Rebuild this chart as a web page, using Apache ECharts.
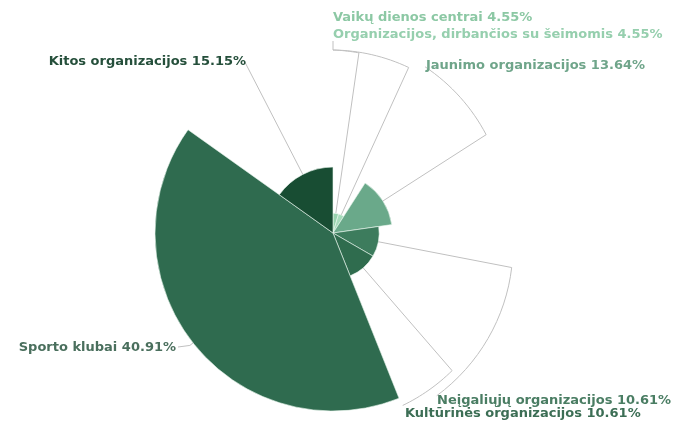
<!DOCTYPE html>
<html>
<head>
<meta charset="utf-8">
<script src="https://cdn.jsdelivr.net/npm/echarts@6/dist/echarts.min.js"></script>
<style>
  html, body { margin: 0; padding: 0; background: #fff; }
  #chart { width: 683px; height: 423px; }
</style>
</head>
<body>
<div id="chart"></div>
<script>
const categories = [
  'Vaikų dienos centrai',
  'Organizacijos, dirbančios su šeimomis',
  'Jaunimo organizacijos',
  'Neįgaliųjų organizacijos',
  'Kultūrinės organizacijos',
  'Sporto klubai',
  'Kitos organizacijos'
];
const shares = [4.55, 4.55, 13.64, 10.61, 10.61, 40.91, 15.15];
const sliceColors = ['#97d2ae', '#a6dbbb', '#6aa98a', '#3d7c5d', '#2f6c4e', '#2f6b4f', '#184d33'];
const textColors = ['#8cc8a4', '#96cfae', '#6fa58a', '#4a7d63', '#3c6e55', '#4a6f5d', '#254f3b'];

const cx = 333;
const cy = 233;
const outerR = 178;

// label placement + how each leader line bends towards its text
const labelSpots = [
  { x: 333, y: 18, align: 'left', reach: 182, arcTo: [90, 183] },
  { x: 333, y: 35, align: 'left', reach: 182, arcTo: [90, 183], tail: [333, 41] },
  { x: 426, y: 66, align: 'left', reach: 182, arcTo: [61, 190] },
  { x: 437, y: 401, align: 'left', reach: 182, arcTo: [-57.5, 193] },
  { x: 405, y: 414, align: 'left', reach: 182, arcTo: [-68, 186] },
  { x: 176, y: 348, align: 'right', reach: 182, tail: [178, 347] },
  { x: 246, y: 62, align: 'right', reach: 192 }
];

const polar = (deg, r) => {
  const a = deg * Math.PI / 180;
  return [cx + r * Math.cos(a), cy - r * Math.sin(a)];
};

const chart = echarts.init(document.getElementById('chart'));

const option = {
  animation: false,
  series: [
    {
      type: 'pie',
      roseType: 'radius',
      center: [cx, cy],
      radius: [0, outerR],
      startAngle: 90,
      clockwise: true,
      avoidLabelOverlap: false,
      itemStyle: { borderColor: '#eaf6ef', borderWidth: 0.6 },
      emphasis: { disabled: true },
      label: {
        show: true,
        position: 'outside',
        fontFamily: 'DejaVu Sans',
        fontWeight: 'bold',
        fontSize: 13,
        formatter: p => p.name + ' ' + p.value.toFixed(2) + '%'
      },
      labelLine: {
        show: true,
        length: 4,
        length2: 0,
        smooth: false,
        lineStyle: { color: '#c0c0c0', width: 1 }
      },
      labelLayout: params => {
        const s = labelSpots[params.dataIndex];
        const p0 = params.labelLinePoints[0];
        const mid = Math.atan2(cy - p0[1], p0[0] - cx) * 180 / Math.PI;
        const pts = [p0, polar(mid, s.reach)];
        if (s.arcTo) {
          const steps = 16;
          for (let k = 1; k <= steps; k++) {
            const t = k / steps;
            pts.push(polar(mid + (s.arcTo[0] - mid) * t, s.reach + (s.arcTo[1] - s.reach) * t));
          }
        }
        if (s.tail) pts.push(s.tail);
        return {
          x: s.x,
          y: s.y,
          align: s.align,
          verticalAlign: 'middle',
          labelLinePoints: pts
        };
      },
      data: categories.map((name, i) => ({
        name: name,
        value: shares[i],
        itemStyle: { color: sliceColors[i] },
        label: { color: textColors[i] }
      }))
    }
  ]
};

chart.setOption(option);
</script>
</body>
</html>
